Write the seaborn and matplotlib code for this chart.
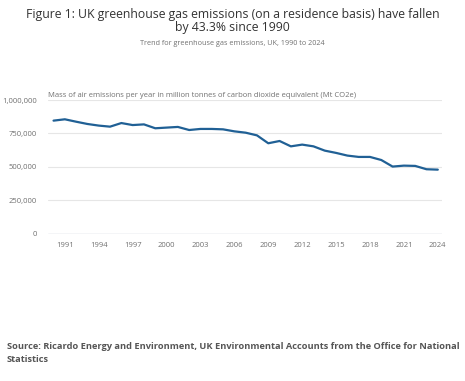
import numpy as np
import pandas as pd
import matplotlib.pyplot as plt
import seaborn as sns
from matplotlib.ticker import FuncFormatter

sns.set_style("white")
plt.rcParams['font.family'] = ['Open Sans', 'DejaVu Sans']

years = list(range(1990, 2025))
emissions = [846, 856, 838, 821, 809, 801, 828, 813, 818, 789,
             794, 799, 776, 784, 784, 781, 766, 756, 736, 677,
             694, 654, 667, 654, 622, 605, 585, 575, 575, 552,
             503, 510, 508, 483, 480]
tick_years = list(range(1991, 2025, 3))

df = pd.DataFrame({'Year': years, 'Emissions': [v * 1000 for v in emissions]})

fig = plt.figure(figsize=(4.65, 3.81), dpi=100)
ax = fig.add_axes([0.103, 0.386, 0.847, 0.3515])

sns.lineplot(data=df, x='Year', y='Emissions', ax=ax, color='#206095', linewidth=1.6)

ax.set_xlim(1989.5, 2024.35)
ax.set_ylim(0, 1000000)
ax.set_yticks([0, 250000, 500000, 750000, 1000000])
ax.yaxis.set_major_formatter(FuncFormatter(lambda v, p: '{:,.0f}'.format(v)))
ax.set_xticks(tick_years)
ax.grid(axis='y', color='#e6e6e6', linewidth=0.8)
ax.axhline(0, color='#d0d8e0', linewidth=1.0, zorder=1)
for s in ax.spines.values():
    s.set_visible(False)
ax.tick_params(axis='x', length=4, width=0.6, color='#d0d0d0', labelsize=5.5, labelcolor='#707070', pad=2)
ax.tick_params(axis='y', length=0, labelsize=5.5, labelcolor='#707070', pad=8)
ax.set_xlabel('')
ax.set_ylabel('')

ax.text(0, 1.005, 'Mass of air emissions per year in million tonnes of carbon dioxide equivalent (Mt CO2e)',
        transform=ax.transAxes, ha='left', va='bottom', fontsize=5.5, color='#707070')

fig.text(0.5, 0.979, 'Figure 1: UK greenhouse gas emissions (on a residence basis) have fallen\nby 43.3% since 1990',
         ha='center', va='top', fontsize=8.8, color='#333333', linespacing=1.0)
fig.text(0.5, 0.887, 'Trend for greenhouse gas emissions, UK, 1990 to 2024',
         ha='center', va='center', fontsize=5.2, color='#707070')
fig.text(0.015, 0.073, 'Source: Ricardo Energy and Environment, UK Environmental Accounts from the Office for National\nStatistics',
         ha='left', va='center', fontsize=6.65, color='#555555', fontweight='bold', linespacing=1.6)

fig.savefig('out.png', dpi=100)
